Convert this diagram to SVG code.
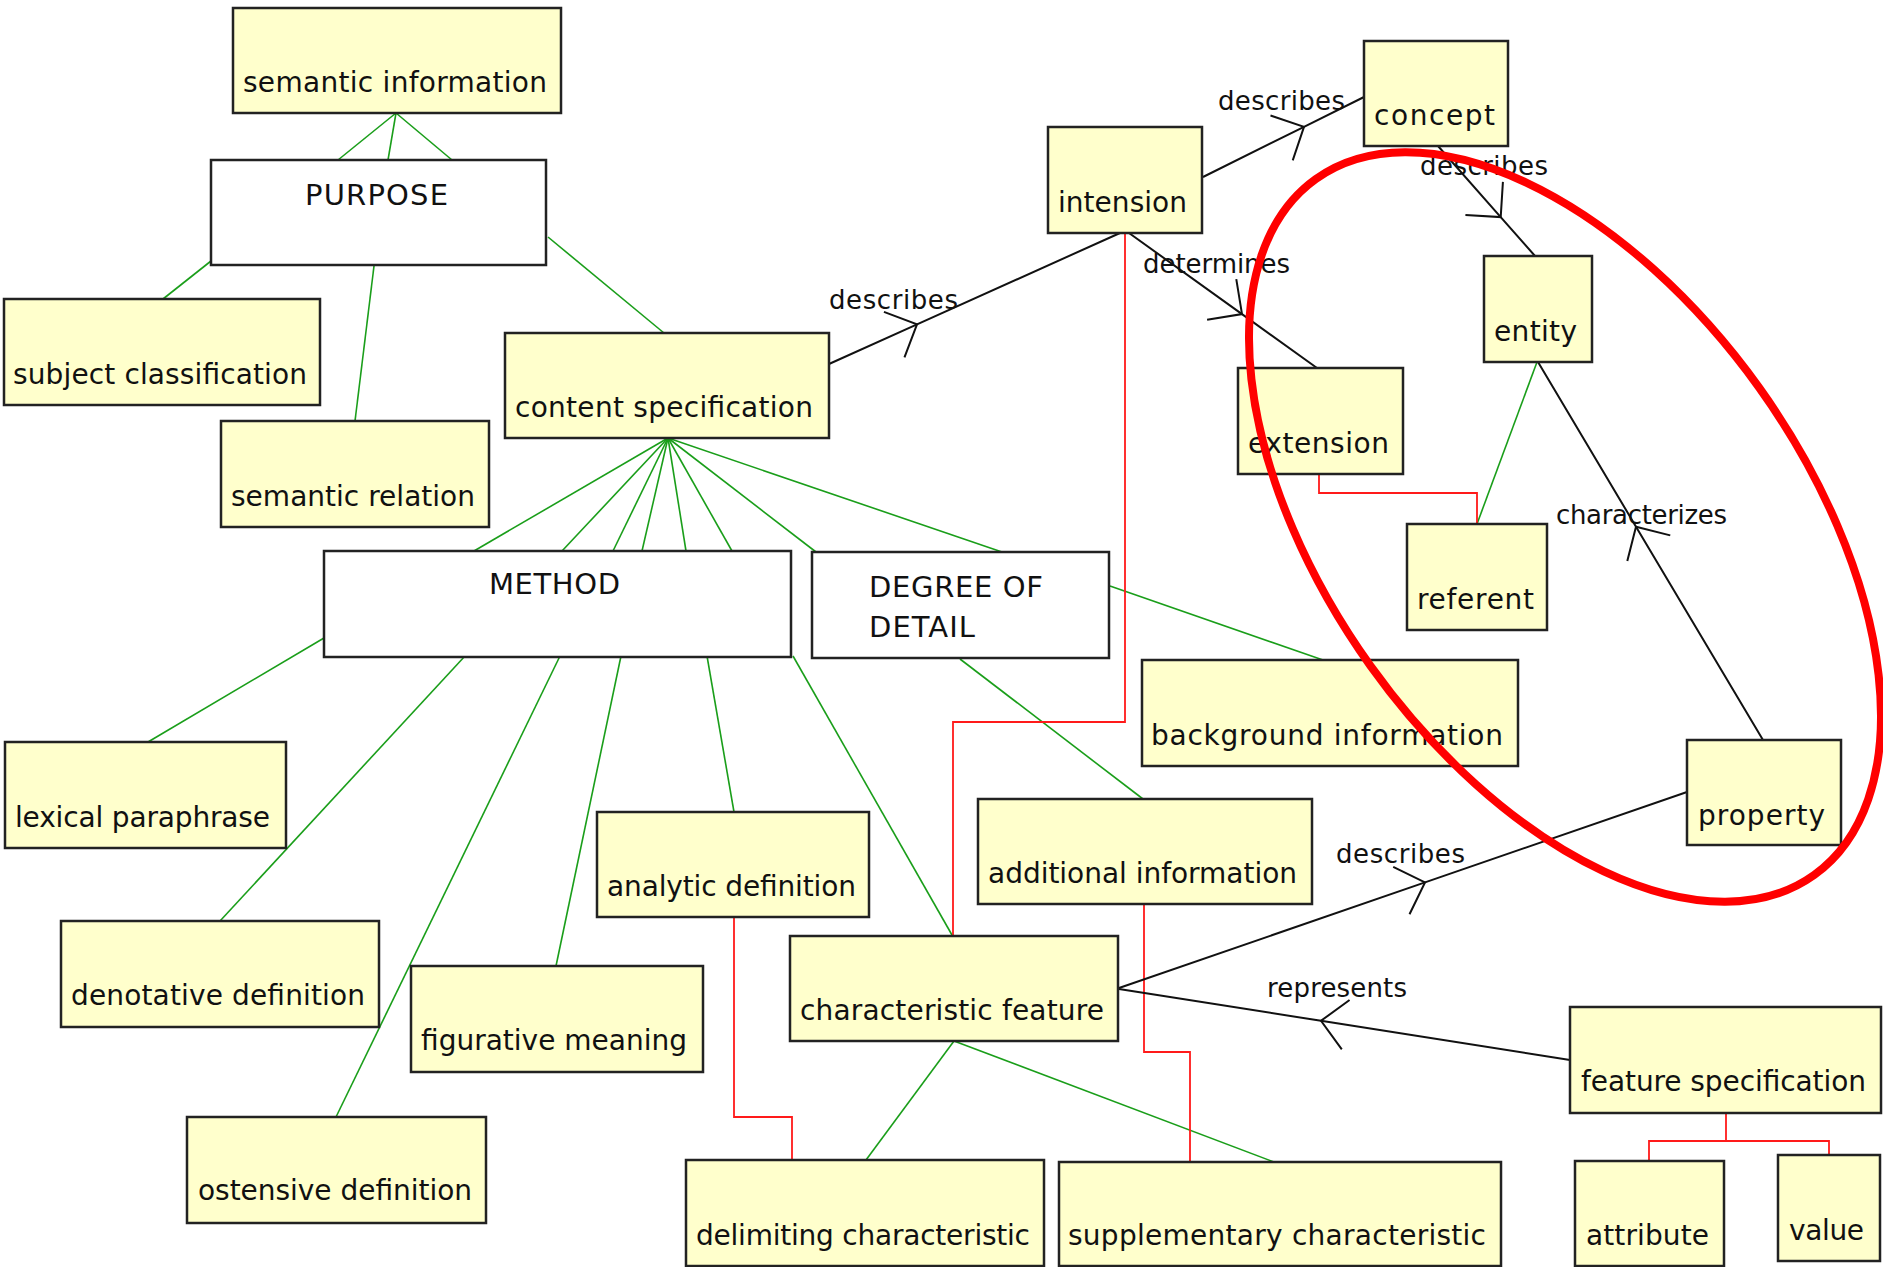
<svg xmlns="http://www.w3.org/2000/svg" width="1883" height="1267" viewBox="0 0 1883 1267">
<defs>
<style>
.box{fill:#ffffcc;stroke:#222;stroke-width:2.5}
.wbox{fill:#ffffff;stroke:#222;stroke-width:2.5}
.t{font-family:"DejaVu Sans",sans-serif;font-size:28px;fill:#111}
.tc{font-family:"DejaVu Sans",sans-serif;font-size:29px;fill:#111}
.lbl{font-family:"DejaVu Sans",sans-serif;font-size:26px;fill:#111}
.g{stroke:#1a9e1a;stroke-width:1.6;fill:none}
.r{stroke:#ff1a1a;stroke-width:1.8;fill:none}
.k{stroke:#111;stroke-width:2;fill:none}
</style>
<marker id="arr" markerUnits="userSpaceOnUse" viewBox="-30 -30 60 60" markerWidth="60" markerHeight="60" refX="0" refY="0" orient="auto" overflow="visible">
<path d="M-25,-25 L0,0 L-25,25" fill="none" stroke="#111" stroke-width="2"/>
</marker>
</defs>
<rect width="1883" height="1267" fill="#ffffff"/>
<g id="connectors">
<line class="g" x1="396" y1="113" x2="338" y2="160"/>
<line class="g" x1="396" y1="113" x2="388" y2="160"/>
<line class="g" x1="396" y1="113" x2="452" y2="160"/>
<line class="g" x1="211" y1="261" x2="163" y2="299"/>
<line class="g" x1="374" y1="266" x2="355" y2="421"/>
<line class="g" x1="548" y1="237" x2="664" y2="333"/>
<line class="g" x1="668" y1="438" x2="474" y2="551"/>
<line class="g" x1="668" y1="438" x2="562" y2="551"/>
<line class="g" x1="668" y1="438" x2="613" y2="551"/>
<line class="g" x1="668" y1="438" x2="642" y2="551"/>
<line class="g" x1="668" y1="438" x2="686" y2="551"/>
<line class="g" x1="668" y1="438" x2="732" y2="551"/>
<line class="g" x1="668" y1="438" x2="816" y2="552"/>
<line class="g" x1="668" y1="438" x2="1002" y2="552"/>
<line class="g" x1="324" y1="638" x2="148" y2="742"/>
<line class="g" x1="465" y1="656" x2="220" y2="921"/>
<line class="g" x1="560" y1="656" x2="336" y2="1117"/>
<line class="g" x1="621" y1="656" x2="556" y2="966"/>
<line class="g" x1="707" y1="656" x2="734" y2="812"/>
<line class="g" x1="793" y1="656" x2="952" y2="935"/>
<line class="g" x1="1110" y1="586" x2="1323" y2="660"/>
<line class="g" x1="960" y1="659" x2="1143" y2="799"/>
<line class="g" x1="954" y1="1041" x2="866" y2="1160"/>
<line class="g" x1="954" y1="1041" x2="1274" y2="1162"/>
<line class="g" x1="1537" y1="362" x2="1477" y2="524"/>
<polyline class="r" points="1125,233 1125,722 953,722 953,935"/>
<polyline class="r" points="1319,474 1319,493 1477,493 1477,524"/>
<polyline class="r" points="734,917 734,1117 792,1117 792,1160"/>
<polyline class="r" points="1144,904 1144,1052 1190,1052 1190,1162"/>
<polyline class="r" points="1726,1113 1726,1141"/>
<polyline class="r" points="1649,1161 1649,1141 1829,1141 1829,1155"/>
<polyline class="k" points="829,364 917,324.4 1120,233" marker-mid="url(#arr)"/>
<polyline class="k" points="1203,177 1304,126.8 1364,97" marker-mid="url(#arr)"/>
<polyline class="k" points="1129,233 1242,314.1 1317,368" marker-mid="url(#arr)"/>
<polyline class="k" points="1438,146 1500.7,217.1 1535,256" marker-mid="url(#arr)"/>
<polyline class="k" points="1763,740 1636,526.7 1538,362" marker-mid="url(#arr)"/>
<polyline class="k" points="1119,988 1425,882.4 1687,792" marker-mid="url(#arr)"/>
<polyline class="k" points="1570,1060 1321,1020.8 1119,989" marker-mid="url(#arr)"/>
<text class="lbl" x="829" y="309" textLength="129">describes</text>
<text class="lbl" x="1218" y="110" textLength="127">describes</text>
<text class="lbl" x="1143" y="273" textLength="147">determines</text>
<text class="lbl" x="1420" y="175" textLength="128">describes</text>
<text class="lbl" x="1556" y="524" textLength="171">characterizes</text>
<text class="lbl" x="1336" y="863" textLength="129">describes</text>
<text class="lbl" x="1267" y="997" textLength="140">represents</text>
</g>
<g id="semantic-information"><rect class="box" x="233" y="8" width="328" height="105"/><text class="t" x="243" y="92" textLength="304">semantic information</text></g>
<g id="purpose"><rect class="wbox" x="211" y="160" width="335" height="105"/><text class="tc" x="305" y="205" textLength="143">PURPOSE</text></g>
<g id="subject-classification"><rect class="box" x="4" y="299" width="316" height="106"/><text class="t" x="13" y="384" textLength="294">subject classification</text></g>
<g id="semantic-relation"><rect class="box" x="221" y="421" width="268" height="106"/><text class="t" x="231" y="506" textLength="244">semantic relation</text></g>
<g id="content-specification"><rect class="box" x="505" y="333" width="324" height="105"/><text class="t" x="515" y="417" textLength="298">content specification</text></g>
<g id="intension"><rect class="box" x="1048" y="127" width="154" height="106"/><text class="t" x="1058" y="212" textLength="129">intension</text></g>
<g id="concept"><rect class="box" x="1364" y="41" width="144" height="105"/><text class="t" x="1374" y="125" textLength="121">concept</text></g>
<g id="entity"><rect class="box" x="1484" y="256" width="108" height="106"/><text class="t" x="1494" y="341" textLength="83">entity</text></g>
<g id="extension"><rect class="box" x="1238" y="368" width="165" height="106"/><text class="t" x="1248" y="453" textLength="141">extension</text></g>
<g id="referent"><rect class="box" x="1407" y="524" width="140" height="106"/><text class="t" x="1417" y="609" textLength="117">referent</text></g>
<g id="method"><rect class="wbox" x="324" y="551" width="467" height="106"/><text class="tc" x="489" y="594" textLength="131">METHOD</text></g>
<g id="degree-of-detail"><rect class="wbox" x="812" y="552" width="297" height="106"/><text class="tc" x="869" y="597" textLength="174">DEGREE OF</text><text class="tc" x="869" y="637" textLength="106">DETAIL</text></g>
<g id="background-information"><rect class="box" x="1142" y="660" width="376" height="106"/><text class="t" x="1151" y="745" textLength="352">background information</text></g>
<g id="lexical-paraphrase"><rect class="box" x="5" y="742" width="281" height="106"/><text class="t" x="15" y="827" textLength="255">lexical paraphrase</text></g>
<g id="additional-information"><rect class="box" x="978" y="799" width="334" height="105"/><text class="t" x="988" y="883" textLength="309">additional information</text></g>
<g id="property"><rect class="box" x="1687" y="740" width="154" height="105"/><text class="t" x="1698" y="825" textLength="127">property</text></g>
<g id="analytic-definition"><rect class="box" x="597" y="812" width="272" height="105"/><text class="t" x="607" y="896" textLength="249">analytic definition</text></g>
<g id="denotative-definition"><rect class="box" x="61" y="921" width="318" height="106"/><text class="t" x="71" y="1005" textLength="294">denotative definition</text></g>
<g id="figurative-meaning"><rect class="box" x="411" y="966" width="292" height="106"/><text class="t" x="421" y="1050" textLength="266">figurative meaning</text></g>
<g id="characteristic-feature"><rect class="box" x="790" y="936" width="328" height="105"/><text class="t" x="800" y="1020" textLength="304">characteristic feature</text></g>
<g id="feature-specification"><rect class="box" x="1570" y="1007" width="311" height="106"/><text class="t" x="1581" y="1091" textLength="285">feature specification</text></g>
<g id="ostensive-definition"><rect class="box" x="187" y="1117" width="299" height="106"/><text class="t" x="198" y="1200" textLength="274">ostensive definition</text></g>
<g id="delimiting-characteristic"><rect class="box" x="686" y="1160" width="358" height="106"/><text class="t" x="696" y="1245" textLength="334">delimiting characteristic</text></g>
<g id="supplementary-characteristic"><rect class="box" x="1059" y="1162" width="442" height="104"/><text class="t" x="1068" y="1245" textLength="418">supplementary characteristic</text></g>
<g id="attribute"><rect class="box" x="1575" y="1161" width="149" height="105"/><text class="t" x="1586" y="1245" textLength="123">attribute</text></g>
<g id="value"><rect class="box" x="1778" y="1155" width="102" height="106"/><text class="t" x="1789" y="1240" textLength="75">value</text></g>
<ellipse cx="1565" cy="527" rx="428" ry="239" transform="rotate(54.4 1565 527)" fill="none" stroke="#ff0000" stroke-width="8"/>
</svg>
